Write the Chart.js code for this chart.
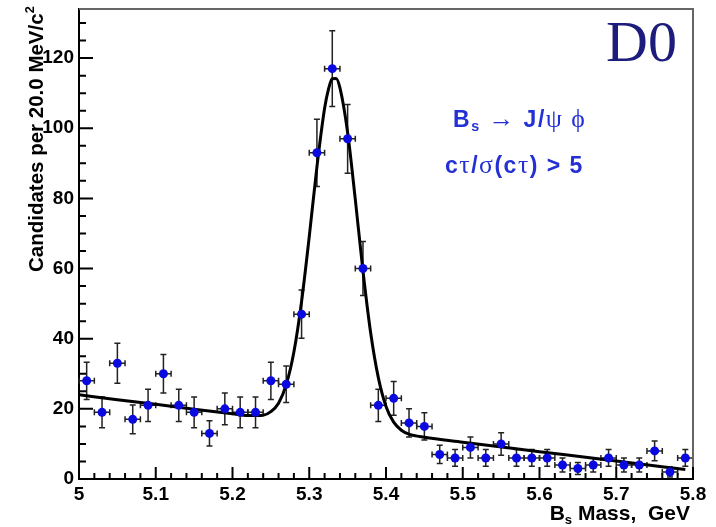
<!DOCTYPE html>
<html>
<head>
<meta charset="utf-8">
<script src="https://cdn.jsdelivr.net/npm/chart.js@4.4.1/dist/chart.umd.min.js"></script>
<style>
  html, body { margin: 0; padding: 0; background: #fff; }
  #wrap { position: relative; width: 716px; height: 527px; overflow: hidden;
          font-family: "Liberation Sans", Arial, sans-serif; }
  #massChart { position: absolute; left: 0; top: 0; }
  .lbl { position: absolute; white-space: nowrap; font-weight: bold; line-height: 1; color: #000; }
  .lbl sub { font-size: 0.62em; vertical-align: -0.3em; line-height: 0; }
  .lbl sup { font-size: 0.62em; vertical-align: 0.7em; line-height: 0; }
  .greek { font-family: "Liberation Serif", "DejaVu Serif", serif; font-weight: normal; font-size: 1.12em; }
  #d0 { position: absolute; left: 606px; top: 13px; font-family: "Liberation Serif", "Times New Roman", serif;
        font-size: 58px; line-height: 1; color: #1c1c7c; }
  .ann { font-size: 23px; color: #2330d6; letter-spacing: 1.5px; }
  #decay { left: 453px; top: 106px; }
  #cut { left: 445px; top: 152px; }
  #xtitle { right: 26px; top: 502px; font-size: 21px; }
  #ytitle { left: 26px; top: 272px; font-size: 20.5px; transform: rotate(-90deg); transform-origin: left top; }
</style>
</head>
<body>
<div id="wrap">
  <canvas id="massChart" width="716" height="527"></canvas>
  <div id="d0">D0</div>
  <div class="lbl ann" id="decay">B<sub>s</sub> <span class="greek">→</span> J/<span class="greek">ψ ϕ</span></div>
  <div class="lbl ann" id="cut">c<span class="greek">τ</span>/<span class="greek">σ</span>(c<span class="greek">τ</span>) &gt; 5</div>
  <div class="lbl" id="xtitle">B<sub>s</sub> Mass,&nbsp; GeV</div>
  <div class="lbl" id="ytitle">Candidates per 20.0 MeV/c<sup>2</sup></div>
</div>
<script>
// bins of 20 MeV, centres in GeV
const binCenters = [5.01, 5.03, 5.05, 5.07, 5.09, 5.11, 5.13, 5.15, 5.17, 5.19,
                    5.21, 5.23, 5.25, 5.27, 5.29, 5.31, 5.33, 5.35, 5.37, 5.39,
                    5.41, 5.43, 5.45, 5.47, 5.49, 5.51, 5.53, 5.55, 5.57, 5.59,
                    5.61, 5.63, 5.65, 5.67, 5.69, 5.71, 5.73, 5.75, 5.77, 5.79];
const candidates = [28, 19, 33, 17, 21, 30, 21, 19, 13, 20,
                    19, 19, 28, 27, 47, 93, 117, 97, 60, 21,
                    23, 16, 15, 7, 6, 9, 6, 10, 6, 6,
                    6, 4, 3, 4, 6, 4, 4, 8, 2, 6];
const candErrors = [5.3, 4.4, 5.7, 4.1, 4.6, 5.5, 4.6, 4.4, 3.6, 4.5,
                    4.4, 4.4, 5.3, 5.2, 6.9, 9.6, 10.8, 9.8, 7.7, 4.6,
                    4.8, 4.0, 3.9, 2.6, 2.4, 3.0, 2.4, 3.2, 2.4, 2.4,
                    2.4, 2.0, 1.7, 2.0, 2.4, 2.0, 2.0, 2.8, 1.4, 2.4];
const binHalfWidth = 0.01;

// fitted curve
const fitMass   = [5.00, 5.05, 5.10, 5.15, 5.20, 5.22, 5.24, 5.25, 5.26, 5.27, 5.28, 5.29, 5.30,
                   5.31, 5.32, 5.325, 5.33, 5.335, 5.34, 5.35, 5.36, 5.37, 5.38, 5.39, 5.40,
                   5.41, 5.42, 5.43, 5.45, 5.50, 5.60, 5.70, 5.79];
const fitValues = [24.0, 22.6, 21.3, 19.9, 18.6, 18.1, 18.2, 19.2, 21.6, 26.9, 36.2, 50.6, 69.1,
                   89.0, 105.7, 111.1, 114.1, 114.2, 111.5, 98.8, 79.7, 59.3, 41.7, 28.9, 20.7,
                   16.2, 13.9, 12.8, 11.9, 10.5, 7.8, 5.1, 2.7];

const xTickValues = [5.0, 5.1, 5.2, 5.3, 5.4, 5.5, 5.6, 5.7, 5.8];
const yTickValues = [0, 20, 40, 60, 80, 100, 120];

const tickFont = { family: "'Liberation Sans', Arial, sans-serif", size: 19, weight: 'bold' };

// error bars behind markers, ROOT-style inward ticks and frame on top
const rootStyle = {
  id: 'rootStyle',
  beforeDatasetsDraw(chart) {
    const { ctx, scales: { x, y } } = chart;
    ctx.save();
    ctx.strokeStyle = '#222';
    ctx.lineWidth = 1.5;
    binCenters.forEach((m, i) => {
      const px = x.getPixelForValue(m);
      const py = y.getPixelForValue(candidates[i]);
      const top = y.getPixelForValue(candidates[i] + candErrors[i]);
      const bot = y.getPixelForValue(Math.max(0, candidates[i] - candErrors[i]));
      const l = x.getPixelForValue(m - binHalfWidth);
      const r = x.getPixelForValue(m + binHalfWidth);
      ctx.beginPath();
      ctx.moveTo(px, top); ctx.lineTo(px, bot);
      ctx.moveTo(l, py); ctx.lineTo(r, py);
      ctx.moveTo(px - 3, top); ctx.lineTo(px + 3, top);
      ctx.moveTo(px - 3, bot); ctx.lineTo(px + 3, bot);
      ctx.moveTo(l, py - 3); ctx.lineTo(l, py + 3);
      ctx.moveTo(r, py - 3); ctx.lineTo(r, py + 3);
      ctx.stroke();
    });
    ctx.restore();
  },
  afterDraw(chart) {
    const { ctx, chartArea: a, scales: { x, y } } = chart;
    ctx.save();
    ctx.strokeStyle = '#666';
    ctx.lineWidth = 2;
    ctx.beginPath();
    ctx.moveTo(a.left, a.top); ctx.lineTo(a.right, a.top); ctx.lineTo(a.right, a.bottom);
    ctx.stroke();

    ctx.strokeStyle = '#000';
    ctx.lineWidth = 2;
    ctx.beginPath();
    for (let k = 0; k <= 40; k++) {
      const px = x.getPixelForValue(5 + k * 0.02);
      const len = k % 5 === 0 ? 12 : 6;
      ctx.moveTo(px, a.bottom); ctx.lineTo(px, a.bottom - len);
    }
    for (let k = 0; k <= 26; k++) {
      const py = y.getPixelForValue(k * 5);
      const len = k % 4 === 0 ? 14 : 7;
      ctx.moveTo(a.left, py); ctx.lineTo(a.left + len, py);
    }
    ctx.stroke();
    ctx.restore();
  }
};

new Chart(document.getElementById('massChart'), {
  type: 'scatter',
  data: {
    datasets: [
      {
        label: 'data',
        data: binCenters.map((m, i) => ({ x: m, y: candidates[i] })),
        backgroundColor: '#0a0ae0',
        borderWidth: 0,
        pointRadius: 4.5,
        order: 0
      },
      {
        label: 'fit',
        type: 'line',
        data: fitMass.map((m, i) => ({ x: m, y: fitValues[i] })),
        borderColor: '#000',
        borderWidth: 3,
        pointRadius: 0,
        fill: false,
        cubicInterpolationMode: 'monotone',
        order: 1
      }
    ]
  },
  options: {
    responsive: false,
    animation: false,
    layout: { padding: { top: 9, right: 23, left: 0, bottom: 0 } },
    plugins: { legend: { display: false }, tooltip: { enabled: false } },
    scales: {
      x: {
        type: 'linear',
        min: 5.0,
        max: 5.8,
        grid: { display: false, drawTicks: false },
        border: { display: true, color: '#000', width: 2 },
        ticks: {
          color: '#000',
          font: tickFont,
          padding: 4,
          maxRotation: 0,
          callback: v => String(+v.toFixed(1))
        },
        afterBuildTicks: s => { s.ticks = xTickValues.map(v => ({ value: v })); },
        afterFit: s => { s.height = 48; s.paddingLeft = 0; s.paddingRight = 0; }
      },
      y: {
        type: 'linear',
        min: 0,
        max: 134,
        grid: { display: false, drawTicks: false },
        border: { display: true, color: '#000', width: 2 },
        ticks: { color: '#000', font: tickFont, padding: 5 },
        afterBuildTicks: s => { s.ticks = yTickValues.map(v => ({ value: v })); },
        afterFit: s => { s.width = 79; s.paddingTop = 0; s.paddingBottom = 0; }
      }
    }
  },
  plugins: [rootStyle]
});
</script>
</body>
</html>
